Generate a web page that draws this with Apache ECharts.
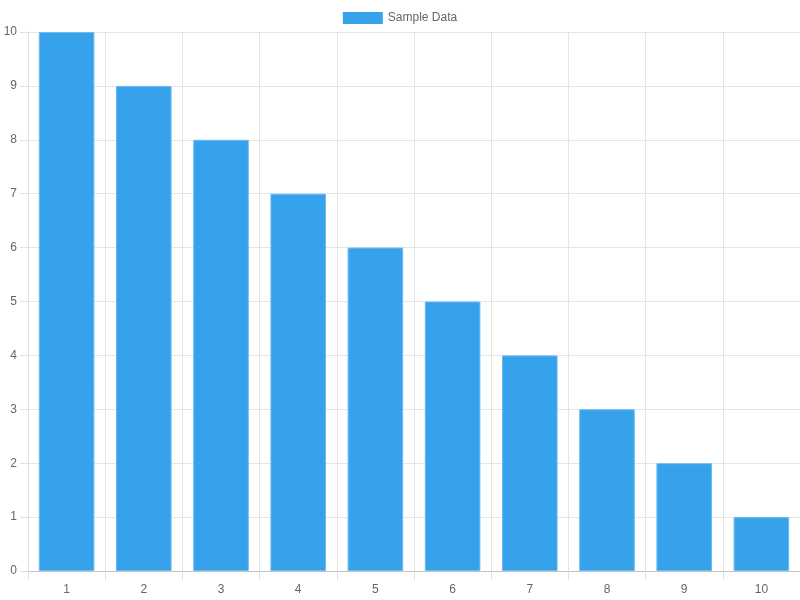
<!DOCTYPE html>
<html>
<head>
<meta charset="utf-8">
<script src="https://cdn.jsdelivr.net/npm/echarts@6/dist/echarts.min.js"></script>
<style>
  html, body { margin: 0; padding: 0; background: #fff; }
  #main { width: 800px; height: 600px; }
</style>
</head>
<body>
<div id="main"></div>
<script>
var categories = ['1', '2', '3', '4', '5', '6', '7', '8', '9', '10'];
var sampleData = [10, 9, 8, 7, 6, 5, 4, 3, 2, 1];
var seriesName = 'Sample Data';

var chart = echarts.init(document.getElementById('main'));

var option = {
    animation: false,
    textStyle: { fontFamily: 'Liberation Sans, Arial, sans-serif' },
    legend: {
        data: [seriesName],
        left: 'center',
        top: 7,
        itemWidth: 40,
        itemHeight: 12,
        itemGap: 10,
        icon: 'rect',
        itemStyle: { borderWidth: 0 },
        textStyle: { color: '#666', fontSize: 12 }
    },
    grid: {
        left: 28,
        right: 0,
        top: 32,
        bottom: 29,
        containLabel: false
    },
    xAxis: {
        type: 'category',
        data: categories,
        boundaryGap: true,
        axisLine: { show: true, lineStyle: { color: '#c4c4c4', width: 1 } },
        axisTick: { show: true, length: 9, lineStyle: { color: '#e0e0e0' } },
        axisLabel: { color: '#666', fontSize: 12, margin: 13 },
        splitLine: { show: true, lineStyle: { color: '#e5e5e5', width: 1 } }
    },
    yAxis: {
        type: 'value',
        min: 0,
        max: 10,
        interval: 1,
        axisLine: { show: true, lineStyle: { color: '#e0e0e0', width: 1 } },
        axisTick: { show: true, length: 8, lineStyle: { color: '#e0e0e0' } },
        axisLabel: { color: '#666', fontSize: 12, margin: 11 },
        splitLine: { show: true, lineStyle: { color: '#e5e5e5', width: 1 } }
    },
    series: [{
        name: seriesName,
        type: 'bar',
        data: sampleData,
        barWidth: '72%',
        itemStyle: {
            color: '#36a2eb',
            borderColor: '#6cbaf0',
            borderWidth: 1
        }
    }]
};

chart.setOption(option);
</script>
</body>
</html>
